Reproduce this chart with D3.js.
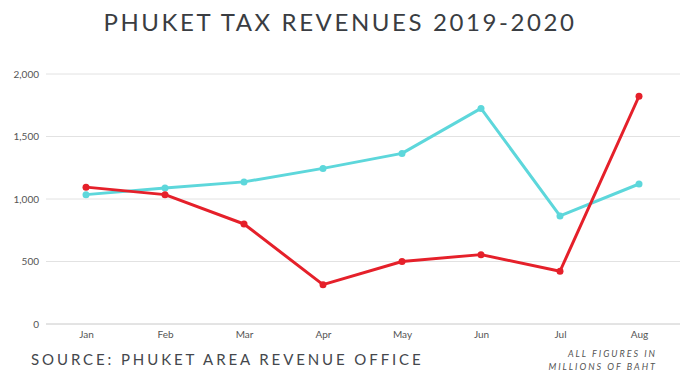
<!DOCTYPE html>
<html>
<head>
<meta charset="utf-8">
<script src="https://cdn.jsdelivr.net/npm/d3@7"></script>
<style>
  body { margin: 0; background: #fff; }
  svg { display: block; font-family: Lato, 'Open Sans', sans-serif; }
</style>
</head>
<body>
<div id="chart"></div>
<script>
// chart data
var months = ["Jan", "Feb", "Mar", "Apr", "May", "Jun", "Jul", "Aug"]
var rev2019 = [1035, 1088, 1137, 1245, 1365, 1725, 865, 1120]
var rev2020 = [1095, 1035, 800, 315, 500, 555, 422, 1822]
var yTicks = [0, 500, 1000, 1500, 2000]

var w = 680
var h = 384

var svg = d3.select("#chart").append("svg")
    .attr("width", w)
    .attr("height", h)

// scales
var xScale = d3.scalePoint()
    .domain(months)
    .range([86, 639])

var yScale = d3.scaleLinear()
    .domain([0, 2000])
    .range([324, 74])

// gridlines
svg.append("g")
    .selectAll("line")
    .data(yTicks)
    .enter()
    .append("line")
    .attr("x1", 46)
    .attr("x2", 680)
    .attr("y1", function(d) { return yScale(d) })
    .attr("y2", function(d) { return yScale(d) })
    .attr("stroke", function(d) { return d == 0 ? "#c8c8c8" : "#e2e2e2" })
    .attr("stroke-width", 1)

// y axis labels
var yAxis = d3.axisLeft(yScale)
    .tickValues(yTicks)
    .tickFormat(d3.format(","))
    .tickSize(0)
    .tickPadding(0)

svg.append("g")
    .attr("transform", "translate(39, 0)")
    .call(yAxis)
    .call(function(g) { g.select(".domain").remove() })
    .selectAll("text")
    .attr("font-size", "10px")
    .attr("font-family", "Lato, sans-serif")
    .attr("fill", "#555")

// x axis labels
var xAxis = d3.axisBottom(xScale).tickSize(0).tickPadding(0)

svg.append("g")
    .attr("transform", "translate(0, 331)")
    .call(xAxis)
    .call(function(g) { g.select(".domain").remove() })
    .selectAll("text")
    .attr("font-size", "10px")
    .attr("font-family", "Lato, sans-serif")
    .attr("fill", "#555")

// lines
var line = d3.line()
    .x(function(d, i) { return xScale(months[i]) })
    .y(function(d) { return yScale(d) })

var series = [
    { values: rev2019, color: "#5dd7db" },
    { values: rev2020, color: "#e5202a" }
]

series.forEach(function(s) {
    svg.append("path")
        .datum(s.values)
        .attr("d", line)
        .attr("fill", "none")
        .attr("stroke", s.color)
        .attr("stroke-width", 3)
        .attr("stroke-linejoin", "round")

    svg.append("g")
        .selectAll("circle")
        .data(s.values)
        .enter()
        .append("circle")
        .attr("cx", function(d, i) { return xScale(months[i]) })
        .attr("cy", function(d) { return yScale(d) })
        .attr("r", 3.5)
        .attr("fill", s.color)
})

// title
svg.append("text")
    .attr("x", 340)
    .attr("y", 31)
    .attr("text-anchor", "middle")
    .attr("font-size", "24px")
    .attr("letter-spacing", "2.6px")
    .attr("fill", "#3a3d42")
    .text("PHUKET TAX REVENUES 2019-2020")

// source
svg.append("text")
    .attr("x", 31)
    .attr("y", 365)
    .attr("font-size", "15px")
    .attr("letter-spacing", "2.9px")
    .attr("fill", "#44474c")
    .text("SOURCE: PHUKET AREA REVENUE OFFICE")

// units note
var note = svg.append("text")
    .attr("text-anchor", "end")
    .attr("font-size", "9px")
    .attr("font-style", "italic")
    .attr("letter-spacing", "2px")
    .attr("fill", "#555")

note.append("tspan").attr("x", 657).attr("y", 357).text("ALL FIGURES IN")
note.append("tspan").attr("x", 657).attr("y", 370).text("MILLIONS OF BAHT")
</script>
</body>
</html>
